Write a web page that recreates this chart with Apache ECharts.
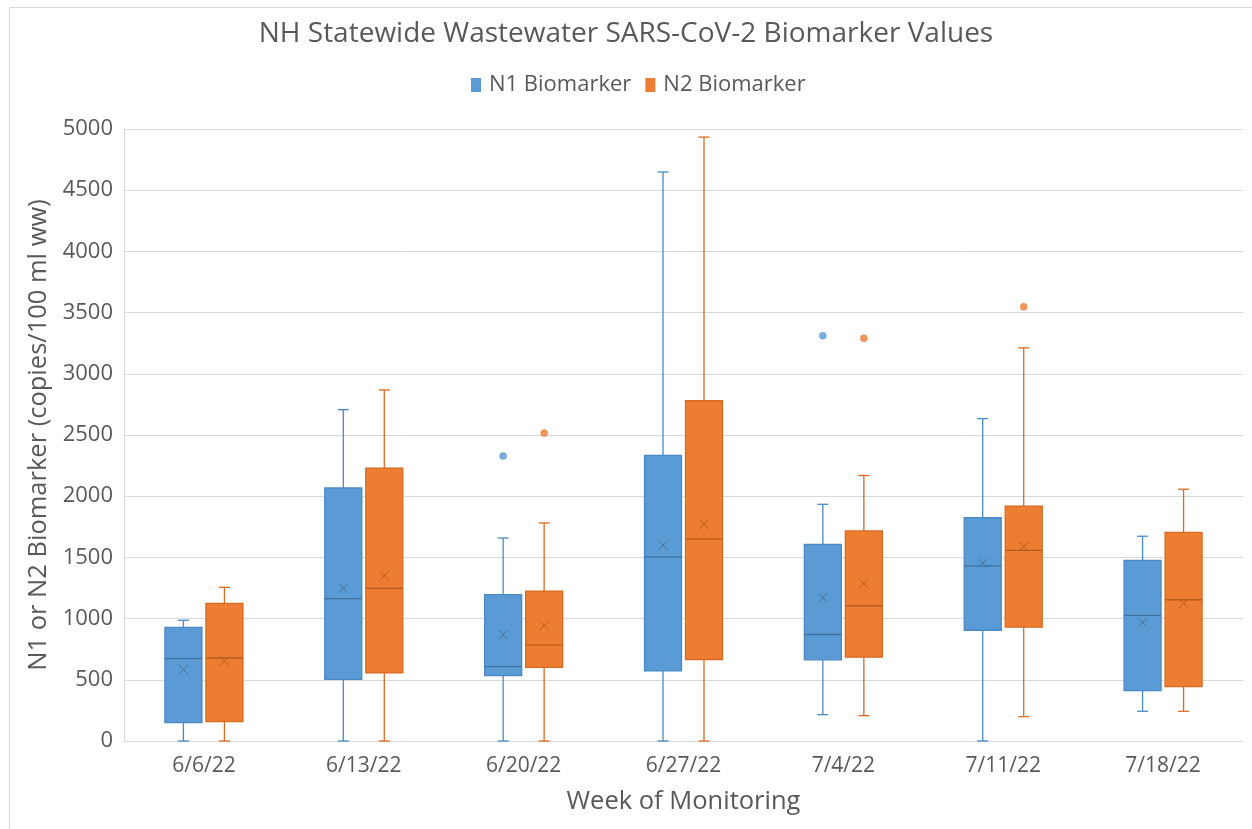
<!DOCTYPE html>
<html>
<head>
<meta charset="utf-8">
<script src="https://cdn.jsdelivr.net/npm/echarts@6/dist/echarts.min.js"></script>
<style>
html,body{margin:0;padding:0;background:#fff;}
#chart{width:1252px;height:829px;}
</style>
</head>
<body>
<div id="chart"></div>
<script>
// Categories (weeks)
const weeks = ['6/6/22','6/13/22','6/20/22','6/27/22','7/4/22','7/11/22','7/18/22'];
const seriesNames = ['N1 Biomarker','N2 Biomarker'];
const yTicks = {min: 0, max: 5000, interval: 500};

// N1 box stats per week: [low whisker, Q1, median, Q3, high whisker, mean]
const n1Stats = [
  [0, 150, 673, 929, 986, 583],
  [0, 504, 1163, 2067, 2707, 1247],
  [0, 534, 607, 1196, 1658, 869],
  [0, 574, 1505, 2334, 4649, 1600],
  [215, 663, 870, 1607, 1934, 1170],
  [0, 905, 1431, 1824, 2634, 1453],
  [243, 412, 1026, 1476, 1673, 969]
];
// N2 box stats per week
const n2Stats = [
  [0, 158, 678, 1125, 1255, 654],
  [0, 556, 1247, 2230, 2868, 1350],
  [0, 602, 784, 1225, 1781, 942],
  [0, 666, 1649, 2780, 4934, 1770],
  [207, 685, 1105, 1716, 2169, 1285],
  [199, 930, 1557, 1919, 3212, 1590],
  [243, 445, 1154, 1705, 2057, 1124]
];
// Outliers: [week index, value]
const n1Outliers = [[2, 2328], [4, 3311]];
const n2Outliers = [[2, 2516], [4, 3290], [5, 3547]];

const fills = ['#5B9BD5', '#ED7D31'];
const borders = ['#4A89C4', '#D86B22'];
const darks = ['#41719C', '#B65B1E'];
const offsets = [-20.5, 20.5];
const BOX_W = 37, CAP_W = 11;

function toData(stats) {
  return stats.map((s, i) => [i].concat(s));
}

function makeRender(k) {
  return function (params, api) {
    const i = api.value(0);
    const pLow = api.coord([i, api.value(1)]);
    const pQ1 = api.coord([i, api.value(2)]);
    const pMed = api.coord([i, api.value(3)]);
    const pQ3 = api.coord([i, api.value(4)]);
    const pHigh = api.coord([i, api.value(5)]);
    const pMean = api.coord([i, api.value(6)]);
    const cx = pQ1[0] + offsets[k];
    const x0 = cx - BOX_W / 2, x1 = cx + BOX_W / 2;
    const lineStyle = {stroke: borders[k], lineWidth: 1.3};
    const m = 4.5;
    return {
      type: 'group',
      children: [
        {type: 'line', shape: {x1: cx, y1: pHigh[1], x2: cx, y2: pQ3[1]}, style: lineStyle},
        {type: 'line', shape: {x1: cx, y1: pQ1[1], x2: cx, y2: pLow[1]}, style: lineStyle},
        {type: 'line', shape: {x1: cx - CAP_W / 2, y1: pHigh[1], x2: cx + CAP_W / 2, y2: pHigh[1]}, style: lineStyle},
        {type: 'line', shape: {x1: cx - CAP_W / 2, y1: pLow[1], x2: cx + CAP_W / 2, y2: pLow[1]}, style: lineStyle},
        {type: 'rect', shape: {x: x0, y: pQ3[1], width: BOX_W, height: pQ1[1] - pQ3[1]},
          style: {fill: fills[k], stroke: borders[k], lineWidth: 1.3}},
        {type: 'line', shape: {x1: x0, y1: pMed[1], x2: x1, y2: pMed[1]}, style: {stroke: darks[k], lineWidth: 1.3}},
        {type: 'line', shape: {x1: cx - m, y1: pMean[1] - m, x2: cx + m, y2: pMean[1] + m}, style: {stroke: darks[k], lineWidth: 1}},
        {type: 'line', shape: {x1: cx - m, y1: pMean[1] + m, x2: cx + m, y2: pMean[1] - m}, style: {stroke: darks[k], lineWidth: 1}}
      ]
    };
  };
}

const FONT = '"Open Sans", sans-serif';
const chart = echarts.init(document.getElementById('chart'), null, {renderer: 'canvas'});
chart.setOption({
  backgroundColor: '#fff',
  animation: false,
  graphic: [{
    type: 'rect', left: 7, top: 5, shape: {width: 1300, height: 900},
    style: {fill: 'none', stroke: '#d9d9d9', lineWidth: 1}, silent: true
  }],
  title: {
    text: 'NH Statewide Wastewater SARS-CoV-2 Biomarker Values',
    left: 'center', top: 15,
    textStyle: {fontFamily: FONT, fontSize: 28, fontWeight: 'normal', color: '#595959'}
  },
  legend: {
    data: seriesNames, top: 69, left: 466,
    icon: 'rect', itemWidth: 10, itemHeight: 14, itemGap: 14,
    textStyle: {fontFamily: FONT, fontSize: 22, color: '#595959', padding: [0, 0, 0, 3]}
  },
  grid: {left: 124, right: 9, top: 129, bottom: 88, containLabel: false},
  xAxis: {
    type: 'category', data: weeks, boundaryGap: true,
    name: 'Week of Monitoring', nameLocation: 'middle', nameGap: 48,
    nameTextStyle: {fontFamily: FONT, fontSize: 25.5, color: '#595959'},
    axisTick: {show: false},
    axisLine: {lineStyle: {color: '#d9d9d9'}},
    axisLabel: {fontFamily: FONT, fontSize: 21, color: '#595959', margin: 15}
  },
  yAxis: {
    type: 'value', min: yTicks.min, max: yTicks.max, interval: yTicks.interval,
    name: 'N1 or N2 Biomarker (copies/100 ml ww)', nameLocation: 'middle', nameGap: 72,
    nameTextStyle: {fontFamily: FONT, fontSize: 25.5, color: '#595959'},
    axisLine: {show: true, lineStyle: {color: '#d9d9d9'}},
    axisTick: {show: false},
    splitLine: {lineStyle: {color: '#d9d9d9'}},
    axisLabel: {fontFamily: FONT, fontSize: 22, color: '#595959', margin: 11,
      formatter: function (v) { return String(v); }}
  },
  series: [
    {name: seriesNames[0], type: 'custom', renderItem: makeRender(0), data: toData(n1Stats),
      itemStyle: {color: fills[0]}, encode: {x: 0, y: [1, 2, 3, 4, 5, 6]}},
    {name: seriesNames[1], type: 'custom', renderItem: makeRender(1), data: toData(n2Stats),
      itemStyle: {color: fills[1]}, encode: {x: 0, y: [1, 2, 3, 4, 5, 6]}},
    {name: seriesNames[0], type: 'scatter', data: n1Outliers, symbolSize: 7,
      symbolOffset: [offsets[0], 0], itemStyle: {color: fills[0], borderColor: borders[0], borderWidth: 0.5}},
    {name: seriesNames[1], type: 'scatter', data: n2Outliers, symbolSize: 7,
      symbolOffset: [offsets[1], 0], itemStyle: {color: fills[1], borderColor: borders[1], borderWidth: 0.5}}
  ]
});
</script>
</body>
</html>
